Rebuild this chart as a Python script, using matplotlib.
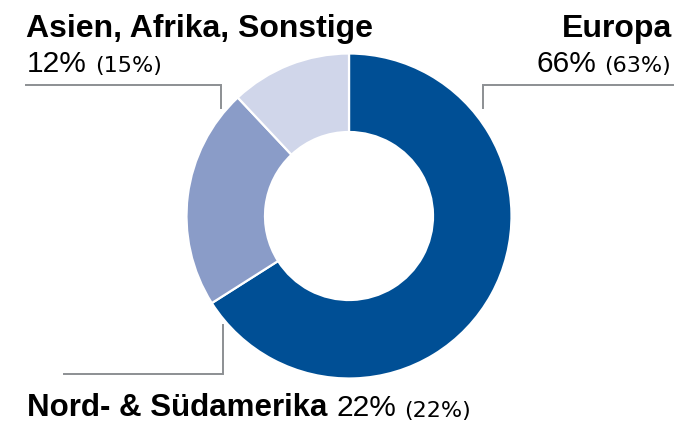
import matplotlib
matplotlib.use("Agg")
import matplotlib.pyplot as plt

regions = ["Europa", "Nord- & Südamerika", "Asien, Afrika, Sonstige"]
shares = [66, 22, 12]
prev_shares = [63, 22, 15]
colors = ["#004F95", "#8A9CC8", "#D0D6EA"]

W, H = 690, 423
fig = plt.figure(figsize=(W / 100, H / 100), dpi=100)
ax = fig.add_axes([0, 0, 1, 1])

cx, cy = 349, H - 216
R = 162.5
r_in = 84

ax.pie(shares, colors=colors, startangle=90, counterclock=False,
       center=(cx, cy), radius=R,
       wedgeprops=dict(width=R - r_in, edgecolor="white", linewidth=1.6))
ax.set_xlim(0, W)
ax.set_ylim(0, H)
ax.set_aspect("equal", adjustable="box")
ax.axis("off")

FONT = "Liberation Sans"
SMALL_FONT = "DejaVu Sans"
TITLE = 23
BIG = 21.5
SMALL = 16
line_col = "#8C8F93"

def Y(p):
    return H - p

renderer = fig.canvas.get_renderer()

def run(x, y, parts, ha="left"):
    # parts: list of (text, weight, size, family, gap_after_px)
    texts = []
    widths = []
    for s, w, sz, fam, gap in parts:
        t = ax.text(0, y, s, fontfamily=fam, fontweight=w, fontsize=sz,
                    ha="left", va="baseline", color="black")
        texts.append(t)
        widths.append(t.get_window_extent(renderer=renderer).width)
    total = sum(widths) + sum(p[4] for p in parts[:-1])
    cur = x if ha == "left" else x - total
    for t, wdt, p in zip(texts, widths, parts):
        t.set_x(cur)
        cur += wdt + p[4]

# Asien, Afrika, Sonstige (top left)
run(26, Y(37), [(regions[2], "bold", TITLE, FONT, 0)])
run(27, Y(72), [(f"{shares[2]}%", "normal", BIG, FONT, 8),
                (f"({prev_shares[2]}%)", "normal", SMALL, SMALL_FONT, 0)])
# Europa (top right)
run(672, Y(37), [(regions[0], "bold", TITLE, FONT, 0)], ha="right")
run(671, Y(72), [(f"{shares[0]}%", "normal", BIG, FONT, 8),
                 (f"({prev_shares[0]}%)", "normal", SMALL, SMALL_FONT, 0)], ha="right")
# Nord- & Südamerika (bottom)
run(27, Y(416.5), [(regions[1], "bold", 22.5, FONT, 9),
                   (f"{shares[1]}%", "normal", 21.5, FONT, 8),
                   (f"({prev_shares[1]}%)", "normal", SMALL, SMALL_FONT, 0)])

# leader lines
lw = 1.4
ax.plot([26, 221, 221], [Y(85), Y(85), Y(108)], color=line_col, lw=lw, solid_joinstyle="miter")
ax.plot([673, 483, 483], [Y(85), Y(85), Y(108)], color=line_col, lw=lw, solid_joinstyle="miter")
ax.plot([223, 223, 64], [Y(325), Y(374), Y(374)], color=line_col, lw=lw, solid_joinstyle="miter")

fig.savefig("out.png", dpi=100)
